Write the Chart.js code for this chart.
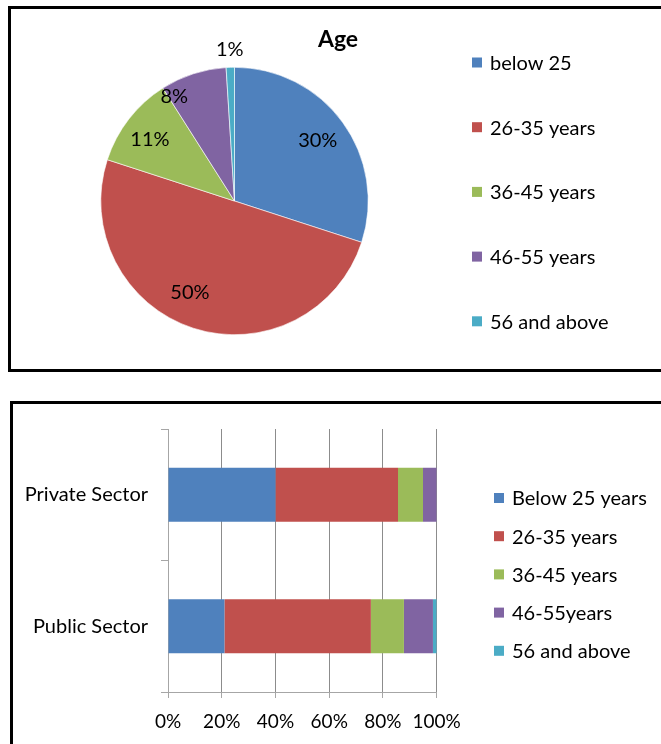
<!DOCTYPE html>
<html><head><meta charset="utf-8">
<script src="https://cdn.jsdelivr.net/npm/chart.js@4/dist/chart.umd.min.js"></script>
<style>
html,body{margin:0;padding:0;background:#fff;overflow:hidden;width:661px;height:744px;}
.box{position:absolute;border:3px solid #000;background:#fff;}
#box1{left:8px;top:6px;width:700px;height:360px;}
#box2{left:10px;top:401px;width:700px;height:400px;}
canvas{position:absolute;left:0;top:0;}
</style></head>
<body>
<div class="box" id="box1"><canvas id="pie" width="650" height="360"></canvas></div>
<div class="box" id="box2"><canvas id="bar" width="648" height="340"></canvas></div>
<script>
// ---- data ----
const pieTitle = 'Age';
const pieCategories = ['below 25', '26-35 years', '36-45 years', '46-55 years', '56 and above'];
const pieValues = [30, 50, 11, 8, 1];

const barCategories = ['Private Sector', 'Public Sector'];
const barSeriesNames = ['Below 25 years', '26-35 years', '36-45 years', '46-55years', '56 and above'];
const below25 = [40, 21];
const age26to35 = [45.6, 54.5];
const age36to45 = [9.3, 12.3];
const age46to55 = [5.1, 10.8];
const age56plus = [0, 1.4];
const xTicks = [0, 20, 40, 60, 80, 100];

const colors = ['#4F81BD', '#C0504D', '#9BBB59', '#8064A2', '#4BACC6'];
const FONT = 'Lato, "Liberation Sans", sans-serif';

const sideLegend = {
  id: 'sideLegend',
  afterDraw(chart, args, o) {
    const ctx = chart.ctx;
    ctx.save();
    ctx.font = o.font; ctx.textBaseline = 'middle'; ctx.textAlign = 'left';
    const items = o.source === 'labels'
      ? chart.data.labels.map((t, i) => ({t, c: chart.data.datasets[0].backgroundColor[i]}))
      : chart.data.datasets.map(d => ({t: d.label, c: d.backgroundColor}));
    items.forEach((it, i) => {
      const y = o.y + i * o.dy;
      ctx.fillStyle = it.c;
      ctx.fillRect(o.x, y - o.box / 2, o.box, o.box);
      ctx.fillStyle = o.color;
      ctx.fillText(it.t, o.x + o.gap, y + 1);
    });
    ctx.restore();
  }
};

const freeTitle = {
  id: 'freeTitle',
  afterDraw(chart, args, o) {
    if (!o.text) return;
    const ctx = chart.ctx;
    ctx.save();
    ctx.font = o.font; ctx.fillStyle = o.color; ctx.textAlign = 'center'; ctx.textBaseline = 'middle';
    ctx.fillText(o.text, o.x, o.y);
    ctx.restore();
  }
};

const pieLabels = {
  id: 'pieLabels',
  afterDatasetsDraw(chart, args, o) {
    const ctx = chart.ctx;
    const meta = chart.getDatasetMeta(0);
    const data = chart.data.datasets[0].data;
    const total = data.reduce((a, b) => a + b, 0);
    ctx.save();
    ctx.font = o.font; ctx.fillStyle = o.color; ctx.textAlign = 'center'; ctx.textBaseline = 'middle';
    meta.data.forEach((arc, i) => {
      const p = arc.getProps(['x', 'y', 'startAngle', 'endAngle', 'outerRadius'], true);
      const a = (p.startAngle + p.endAngle) / 2 + (o.angleShift[i] || 0) * Math.PI / 180;
      const r = p.outerRadius * o.radius[i];
      ctx.fillText(Math.round(data[i] / total * 100) + '%', p.x + Math.cos(a) * r, p.y + Math.sin(a) * r);
    });
    ctx.restore();
  }
};

new Chart(document.getElementById('pie'), {
  type: 'pie',
  data: {
    labels: pieCategories,
    datasets: [{ data: pieValues, backgroundColor: colors, borderColor: '#ffffff', borderWidth: 0.6 }]
  },
  options: {
    responsive: false, animation: false, events: [],
    layout: { padding: { left: 89.5, right: 292.5, top: 58, bottom: 34 } },
    plugins: {
      legend: { display: false }, tooltip: { enabled: false }, title: { display: false },
      freeTitle: { text: pieTitle, x: 327, y: 31, font: 'bold 23px ' + FONT, color: '#000' },
      sideLegend: { source: 'labels', x: 461, y: 53.5, dy: 64.7, box: 10, gap: 18, font: '20px ' + FONT, color: '#000' },
      pieLabels: { font: '20px ' + FONT, color: '#000',
        radius: [0.77, 0.76, 0.78, 0.9, 1.13], angleShift: [0, 8, -2, -12, 0] }
    }
  },
  plugins: [sideLegend, freeTitle, pieLabels]
});

const barSeries = [below25, age26to35, age36to45, age46to55, age56plus];
new Chart(document.getElementById('bar'), {
  type: 'bar',
  data: {
    labels: barCategories,
    datasets: barSeries.map((d, i) => ({
      label: barSeriesNames[i], data: d, backgroundColor: colors[i],
      borderWidth: 0, barPercentage: 0.41, categoryPercentage: 1
    }))
  },
  options: {
    responsive: false, animation: false, events: [],
    indexAxis: 'y',
    layout: { padding: { left: 0, right: 224.3, top: 21, bottom: 0 } },
    scales: {
      x: {
        stacked: true, min: 0, max: 100,
        afterBuildTicks: s => { s.ticks = xTicks.map(v => ({ value: v })); },
        afterFit: s => { s.height = 52; },
        grid: { color: '#8c8c8c', lineWidth: 1, drawTicks: true, tickLength: 6, tickColor: '#a6a6a6' },
        border: { display: true, color: '#a6a6a6', width: 1 },
        ticks: { callback: v => v + '%', font: { family: FONT, size: 19 }, color: '#000', padding: 12, maxRotation: 0 }
      },
      y: {
        stacked: true,
        afterFit: s => { s.width = 155; },
        grid: { drawOnChartArea: false, drawTicks: true, tickLength: 7, color: '#a6a6a6', offset: true },
        border: { display: true, color: '#a6a6a6', width: 1 },
        ticks: { font: { family: FONT, size: 20 }, color: '#000', padding: 13 }
      }
    },
    plugins: {
      legend: { display: false }, tooltip: { enabled: false }, title: { display: false },
      sideLegend: { source: 'datasets', x: 481, y: 94, dy: 38.2, box: 10, gap: 18, font: '20px ' + FONT, color: '#000' }
    }
  },
  plugins: [sideLegend]
});
</script>
</body></html>
